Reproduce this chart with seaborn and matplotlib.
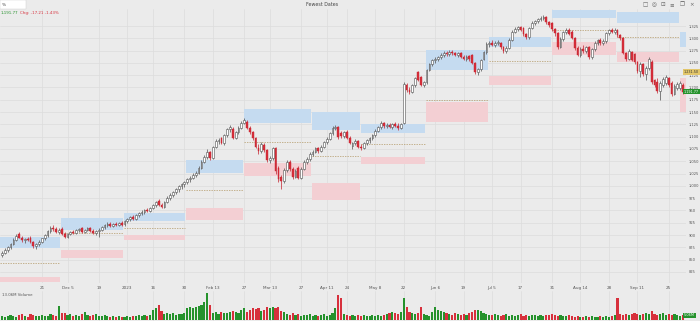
import numpy as np
import pandas as pd
import matplotlib
matplotlib.use("Agg")
import matplotlib.pyplot as plt
import matplotlib.transforms as mtrans
from matplotlib.patches import Rectangle
import seaborn as sns

# ---------------- data ----------------
opens = [860,864,870,876,882,890,903,895,889,892,
         894,885,877,882,886,893,900,908,915,912,
         907,913,902,897,903,907,905,910,914,907,
         911,914,908,905,909,911,916,920,922,919,
         923,921,924,922,928,932,936,933,940,944,
         947,951,949,956,961,969,962,958,968,976,
         982,987,993,999,1003,1007,1013,1017,1023,1026,
         1037,1049,1058,1068,1056,1079,1092,1097,1088,1103,
         1115,1116,1098,1109,1118,1128,1130,1118,1109,1097,
         1078,1070,1084,1072,1052,1056,1077,1036,1018,1010,
         1032,1048,1034,1018,1036,1017,1035,1049,1054,1065,
         1069,1077,1070,1080,1089,1096,1107,1117,1120,1108,
         1101,1110,1098,1082,1087,1092,1080,1078,1087,1093,
         1097,1103,1112,1119,1128,1121,1124,1120,1125,1122,
         1117,1128,1205,1194,1190,1205,1231,1221,1206,1211,
         1236,1247,1255,1258,1261,1267,1271,1269,1272,1270,
         1267,1270,1263,1258,1264,1266,1250,1231,1237,1258,
         1272,1289,1290,1287,1291,1290,1282,1274,1281,1297,
         1313,1318,1322,1321,1308,1302,1321,1332,1335,1339,
         1342,1344,1333,1331,1318,1311,1283,1298,1312,1317,
         1313,1300,1280,1267,1279,1274,1282,1261,1278,1291,
         1296,1290,1294,1310,1316,1313,1317,1306,1301,1270,
         1258,1272,1268,1251,1233,1248,1227,1240,1252,1215,
         1212,1192,1205,1209,1219,1210,1187,1198,1198,1206]
highs = [868,873,878,884,893,902,906,898,895,897,
         899,888,884,889,895,902,910,918,920,916,
         914,917,906,905,909,911,912,915,916,913,
         916,917,912,911,914,918,923,926,926,925,
         927,926,928,930,935,939,940,942,947,950,
         953,956,958,964,970,973,966,970,979,985,
         990,996,1002,1006,1010,1016,1020,1026,1030,1040,
         1052,1062,1075,1070,1082,1095,1098,1100,1106,1118,
         1124,1119,1112,1121,1131,1138,1133,1122,1112,1100,
         1085,1090,1088,1075,1060,1080,1080,1040,1022,1036,
         1052,1052,1038,1034,1040,1038,1052,1058,1068,1072,
         1080,1080,1084,1092,1099,1110,1121,1124,1122,1112,
         1112,1113,1101,1090,1095,1094,1085,1090,1096,1100,
         1106,1115,1122,1131,1130,1127,1128,1127,1129,1128,
         1128,1212,1210,1200,1208,1222,1234,1224,1214,1238,
         1250,1258,1262,1265,1270,1275,1274,1276,1276,1273,
         1273,1273,1266,1266,1267,1268,1252,1240,1258,1275,
         1292,1294,1296,1294,1296,1292,1285,1284,1300,1316,
         1322,1326,1325,1323,1311,1324,1335,1338,1342,1345,
         1347,1346,1336,1333,1320,1313,1302,1315,1320,1320,
         1316,1303,1284,1282,1286,1285,1284,1281,1295,1299,
         1300,1298,1313,1319,1320,1320,1319,1308,1303,1273,
         1279,1275,1271,1254,1252,1250,1243,1262,1255,1218,
         1220,1214,1222,1226,1222,1214,1208,1212,1214,1210]
lows = [855,861,866,872,879,887,893,886,884,887,
        884,874,872,878,883,890,897,905,909,904,
        903,900,893,894,900,902,903,906,905,904,
        908,906,902,900,897,909,913,917,916,916,
        919,918,918,919,925,929,930,931,937,940,
        943,946,947,953,958,960,955,956,965,972,
        978,984,988,993,998,1004,1008,1014,1018,1024,
        1035,1046,1055,1053,1054,1076,1086,1085,1084,1100,
        1110,1095,1095,1106,1115,1125,1115,1106,1094,1076,
        1064,1067,1068,1048,1046,1053,1025,1008,994,1006,
        1028,1030,1014,1015,1013,1014,1032,1045,1051,1060,
        1066,1066,1068,1077,1086,1093,1104,1113,1096,1097,
        1098,1095,1085,1075,1083,1077,1072,1075,1084,1088,
        1094,1100,1109,1116,1118,1117,1118,1116,1119,1113,
        1115,1126,1190,1186,1188,1202,1213,1203,1200,1208,
        1233,1243,1250,1253,1258,1263,1264,1265,1266,1264,
        1263,1260,1255,1254,1254,1248,1228,1226,1234,1255,
        1269,1283,1284,1283,1286,1279,1270,1271,1278,1294,
        1310,1314,1314,1305,1298,1299,1318,1328,1331,1335,
        1337,1330,1324,1315,1305,1279,1280,1295,1308,1306,
        1298,1277,1264,1263,1270,1271,1258,1257,1275,1287,
        1286,1287,1291,1306,1310,1309,1303,1296,1268,1254,
        1255,1253,1248,1229,1222,1224,1215,1236,1207,1200,
        1188,1175,1202,1206,1202,1183,1184,1195,1195,1186]
closes = [864,870,876,882,890,899,895,889,892,890,
          885,877,882,886,893,900,908,915,912,907,
          911,902,897,903,907,905,910,912,907,911,
          914,908,905,909,911,916,920,922,919,923,
          921,924,920,928,932,936,933,940,944,947,
          951,949,956,961,967,962,958,968,976,982,
          987,993,999,1003,1007,1013,1017,1023,1026,1037,
          1049,1058,1068,1056,1079,1092,1094,1088,1103,1115,
          1120,1098,1109,1118,1128,1134,1118,1109,1097,1080,
          1070,1086,1072,1052,1056,1076,1030,1013,1010,1032,
          1048,1034,1018,1030,1017,1035,1049,1054,1065,1069,
          1077,1070,1080,1089,1096,1107,1117,1120,1099,1101,
          1109,1098,1088,1087,1092,1080,1078,1087,1093,1097,
          1103,1112,1119,1128,1121,1124,1120,1125,1122,1117,
          1126,1208,1194,1190,1205,1219,1216,1206,1211,1236,
          1247,1255,1258,1261,1267,1271,1269,1272,1270,1267,
          1270,1263,1258,1262,1257,1250,1231,1237,1255,1272,
          1289,1290,1287,1291,1293,1282,1274,1281,1297,1313,
          1318,1322,1316,1308,1302,1321,1332,1335,1339,1342,
          1344,1333,1327,1318,1310,1283,1298,1312,1316,1309,
          1300,1280,1267,1279,1274,1282,1261,1278,1291,1296,
          1290,1294,1310,1316,1313,1317,1306,1300,1270,1258,
          1275,1256,1251,1233,1248,1227,1240,1257,1211,1205,
          1192,1210,1218,1221,1206,1187,1204,1207,1209,1191.77]
volumes = [4,3,4,5,4,3,5,6,4,3,6,5,4,4,5,4,4,6,5,4,
           14,7,7,5,6,4,5,4,6,8,5,4,5,6,4,4,5,4,3,4,3,4,3,
           3,4,3,4,4,5,4,5,4,5,
           10,12,15,9,6,7,
           6,7,5,6,6,7,
           12,13,12,13,14,15,18,27,15,
           7,8,6,8,7,7,8,9,8,7,10,12,
           8,10,12,11,12,9,10,13,12,13,12,13,9,8,
           6,5,7,5,6,4,5,5,6,4,5,4,5,6,4,5,7,
           12,25,22,
           6,5,4,5,4,5,4,5,4,4,5,4,5,4,5,6,7,8,7,6,8,
           22,13,8,7,6,7,13,
           6,5,4,8,13,10,9,8,7,6,5,7,6,
           5,6,5,7,8,10,10,9,7,6,5,5,6,5,4,
           5,6,4,5,4,5,6,4,5,4,5,5,4,5,4,5,5,6,5,4,5,4,4,5,
           4,3,4,3,3,4,3,4,3,3,4,3,4,3,4,5,
           22,
           6,5,6,5,6,7,6,5,6,7,6,
           9,
           6,5,6,7,5,6,5,6,5,4,5]

tick_pos = [14, 23, 34, 44, 53, 64, 74, 85, 94, 105, 114, 121,
            131, 141, 152, 162, 172, 182, 193, 203, 213, 223, 234]
tick_labels = ["21", "Dec 5", "19", "2023", "16", "30", "Feb 13", "27",
               "Mar 13", "27", "Apr 11", "24", "May 8", "22", "Jun 6",
               "19", "Jul 5", "17", "31", "Aug 14", "28", "Sep 11", "25"]
price_ticks = [825, 850, 875, 900, 925, 950, 975, 1000, 1025, 1050, 1075,
               1100, 1125, 1150, 1175, 1200, 1225, 1250, 1275, 1300, 1325]

zone_start = [-0.7, 20.7, 42.8, 64.6, 84.9, 108.8, 126.0, 148.8, 170.9, 193.0, 215.8, 237.9]
zone_end   = [20.5, 42.6, 64.4, 84.7, 108.6, 125.8, 148.6, 170.7, 192.8, 215.6, 237.7, 240.1]
blue_top = [896, 935, 945, 1053, 1156, 1150, 1126, 1276, 1303, 1358, 1353, 1313]
blue_bot = [874, 910, 929, 1026, 1128, 1114, 1107, 1236, 1282, 1341, 1331, 1282]
mid_line = [843, 904, 914, 992, 1089, 1061, 1085, 1175, 1254, 1317, 1303, np.nan]
pink_top = [815, 870, 900, 955, 1046, 1006, 1059, 1170, 1223, 1292, 1272, 1219]
pink_bot = [805, 853, 890, 931, 1020, 971, 1044, 1130, 1205, 1266, 1252, 1150]

last_price = 1191.77
marker_price = 1231.50

# ---------------- style ----------------
sns.set_theme(style="white")
plt.rcParams['font.family'] = ['DejaVu Sans']
BG = '#ebebeb'
GRID = '#dcdcdc'
UP_EDGE = '#505050'
DOWN = '#d7303c'
GREEN = '#25922c'

W, H = 700, 321
fig = plt.figure(figsize=(7, 3.21), dpi=100, facecolor=BG)
axv = fig.add_axes([0, 0, 686 / W, 30 / H])
ax = fig.add_axes([0, 1 - 283 / H, 686 / W, (283 - 9) / H])
ax.set_zorder(3)
ax.patch.set_alpha(0.0)
for a in (ax, axv):
    for s in a.spines.values():
        s.set_visible(False)
axv.set_facecolor(BG)

o = np.array(opens, float)
h = np.array(highs, float)
l = np.array(lows, float)
c = np.array(closes, float)
idx = np.arange(len(o))
up = c >= o

# zones
for i in range(len(zone_start)):
    s, e = zone_start[i], zone_end[i]
    ax.add_patch(Rectangle((s, blue_bot[i]), e - s, blue_top[i] - blue_bot[i],
                           facecolor='#c5dbf0', edgecolor='none', zorder=1))
    ax.add_patch(Rectangle((s, pink_bot[i]), e - s, pink_top[i] - pink_bot[i],
                           facecolor='#f3cfd3', edgecolor='none', zorder=1))
    if not np.isnan(mid_line[i]):
        ax.plot([s, e], [mid_line[i], mid_line[i]], color='#b49a68', lw=0.5,
                ls=(0, (2, 1.6)), zorder=2)

# candles
ax.vlines(idx[up], l[up], h[up], color=UP_EDGE, lw=0.5, zorder=3)
ax.vlines(idx[~up], l[~up], h[~up], color='#c4212d', lw=0.5, zorder=3)
body_lo = np.minimum(o, c)
body_h = np.maximum(np.abs(c - o), 1.2)
ax.bar(idx[up], body_h[up], bottom=body_lo[up], width=0.62, facecolor='white',
       edgecolor=UP_EDGE, linewidth=0.4, zorder=4)
ax.bar(idx[~up], body_h[~up], bottom=body_lo[~up], width=0.62, facecolor=DOWN,
       edgecolor='#c4212d', linewidth=0.3, zorder=4)

ax.set_xlim(-0.7, 240.05)
ax.set_ylim(802.5, 1359.6)
ax.set_yticks(price_ticks)
ax.set_yticklabels([f"{v:,}" for v in price_ticks])
ax.set_xticks(tick_pos)
ax.set_xticklabels(tick_labels)
ax.grid(True, color=GRID, lw=0.5)
ax.set_axisbelow(True)
ax.tick_params(axis='y', left=False, right=False, labelleft=False, labelright=True,
               length=0, labelsize=2.6, pad=1.8, labelcolor='#555555')
ax.tick_params(axis='x', bottom=False, length=0, labelsize=3.0, pad=2.0, labelcolor='#555555')

# volume
dfv = pd.DataFrame({'idx': idx, 'vol': volumes, 'dir': np.where(up, 'up', 'down')})
sns.barplot(data=dfv, x='idx', y='vol', hue='dir', palette={'up': GREEN, 'down': DOWN},
            native_scale=True, dodge=False, legend=False, ax=axv, width=0.75,
            linewidth=0, saturation=1, errorbar=None)
axv.set_xlim(-0.7, 240.05)
axv.set_ylim(-0.6, 29.5)
axv.set_xticks(tick_pos)
axv.set_xticklabels([])
axv.set_yticks([])
axv.set_xlabel('')
axv.set_ylabel('')
axv.grid(True, axis='x', color=GRID, lw=0.5)
axv.set_axisbelow(True)
axv.tick_params(axis='both', length=0)
axv.text(0.003, 0.93, "13.06M Volume", transform=axv.transAxes, fontsize=2.8,
         color='#555555', va='top', ha='left')
axv.text(684 / 686, volumes[-1], "5.06M", transform=mtrans.blended_transform_factory(axv.transAxes, axv.transData),
         fontsize=2.5, color='white', va='center', ha='left', clip_on=False,
         bbox=dict(boxstyle='square,pad=0.25', fc=GREEN, ec='none'))

# price tags on the right
bt = mtrans.blended_transform_factory(ax.transAxes, ax.transData)
ax.text(684 / 686, marker_price, f"{marker_price:,.2f}", transform=bt, fontsize=2.4,
        color='#333333', va='center', ha='left', clip_on=False, zorder=6,
        bbox=dict(boxstyle='square,pad=0.25', fc='#e2c66a', ec='none'))
ax.text(684 / 686, last_price, f"{last_price:,.2f}", transform=bt, fontsize=2.4,
        color='white', va='center', ha='left', clip_on=False, zorder=6,
        bbox=dict(boxstyle='square,pad=0.25', fc=GREEN, ec='none'))

# header
fig.patches.append(Rectangle((0, 1 - 9 / H), 26 / W, 9 / H, transform=fig.transFigure,
                             facecolor='white', edgecolor='#cccccc', lw=0.3, zorder=5))
fig.text(2 / W, 1 - 4.5 / H, "%", fontsize=3.2, color='#444444', va='center', ha='left', zorder=6)
fig.text(0.46, 1 - 5 / H, "Fewest Dates", fontsize=3.4, color='#444444', va='center', ha='center')
fig.text(1 / W, 1 - 13 / H, "1,191.77", fontsize=2.9, color=GREEN, va='center', ha='left')
fig.text(20 / W, 1 - 13 / H, "Chg: -17.21 -1.43%", fontsize=2.9, color=DOWN, va='center', ha='left')
for xp, ch in zip([645, 654, 663, 672, 682, 692], ["□", "◎", "⊡", "≡", "❐", "×"]):
    fig.text(xp / W, 1 - 5 / H, ch, fontsize=4, color='#666666', va='center', ha='center')

fig.savefig("out.png", dpi=100, facecolor=BG)
